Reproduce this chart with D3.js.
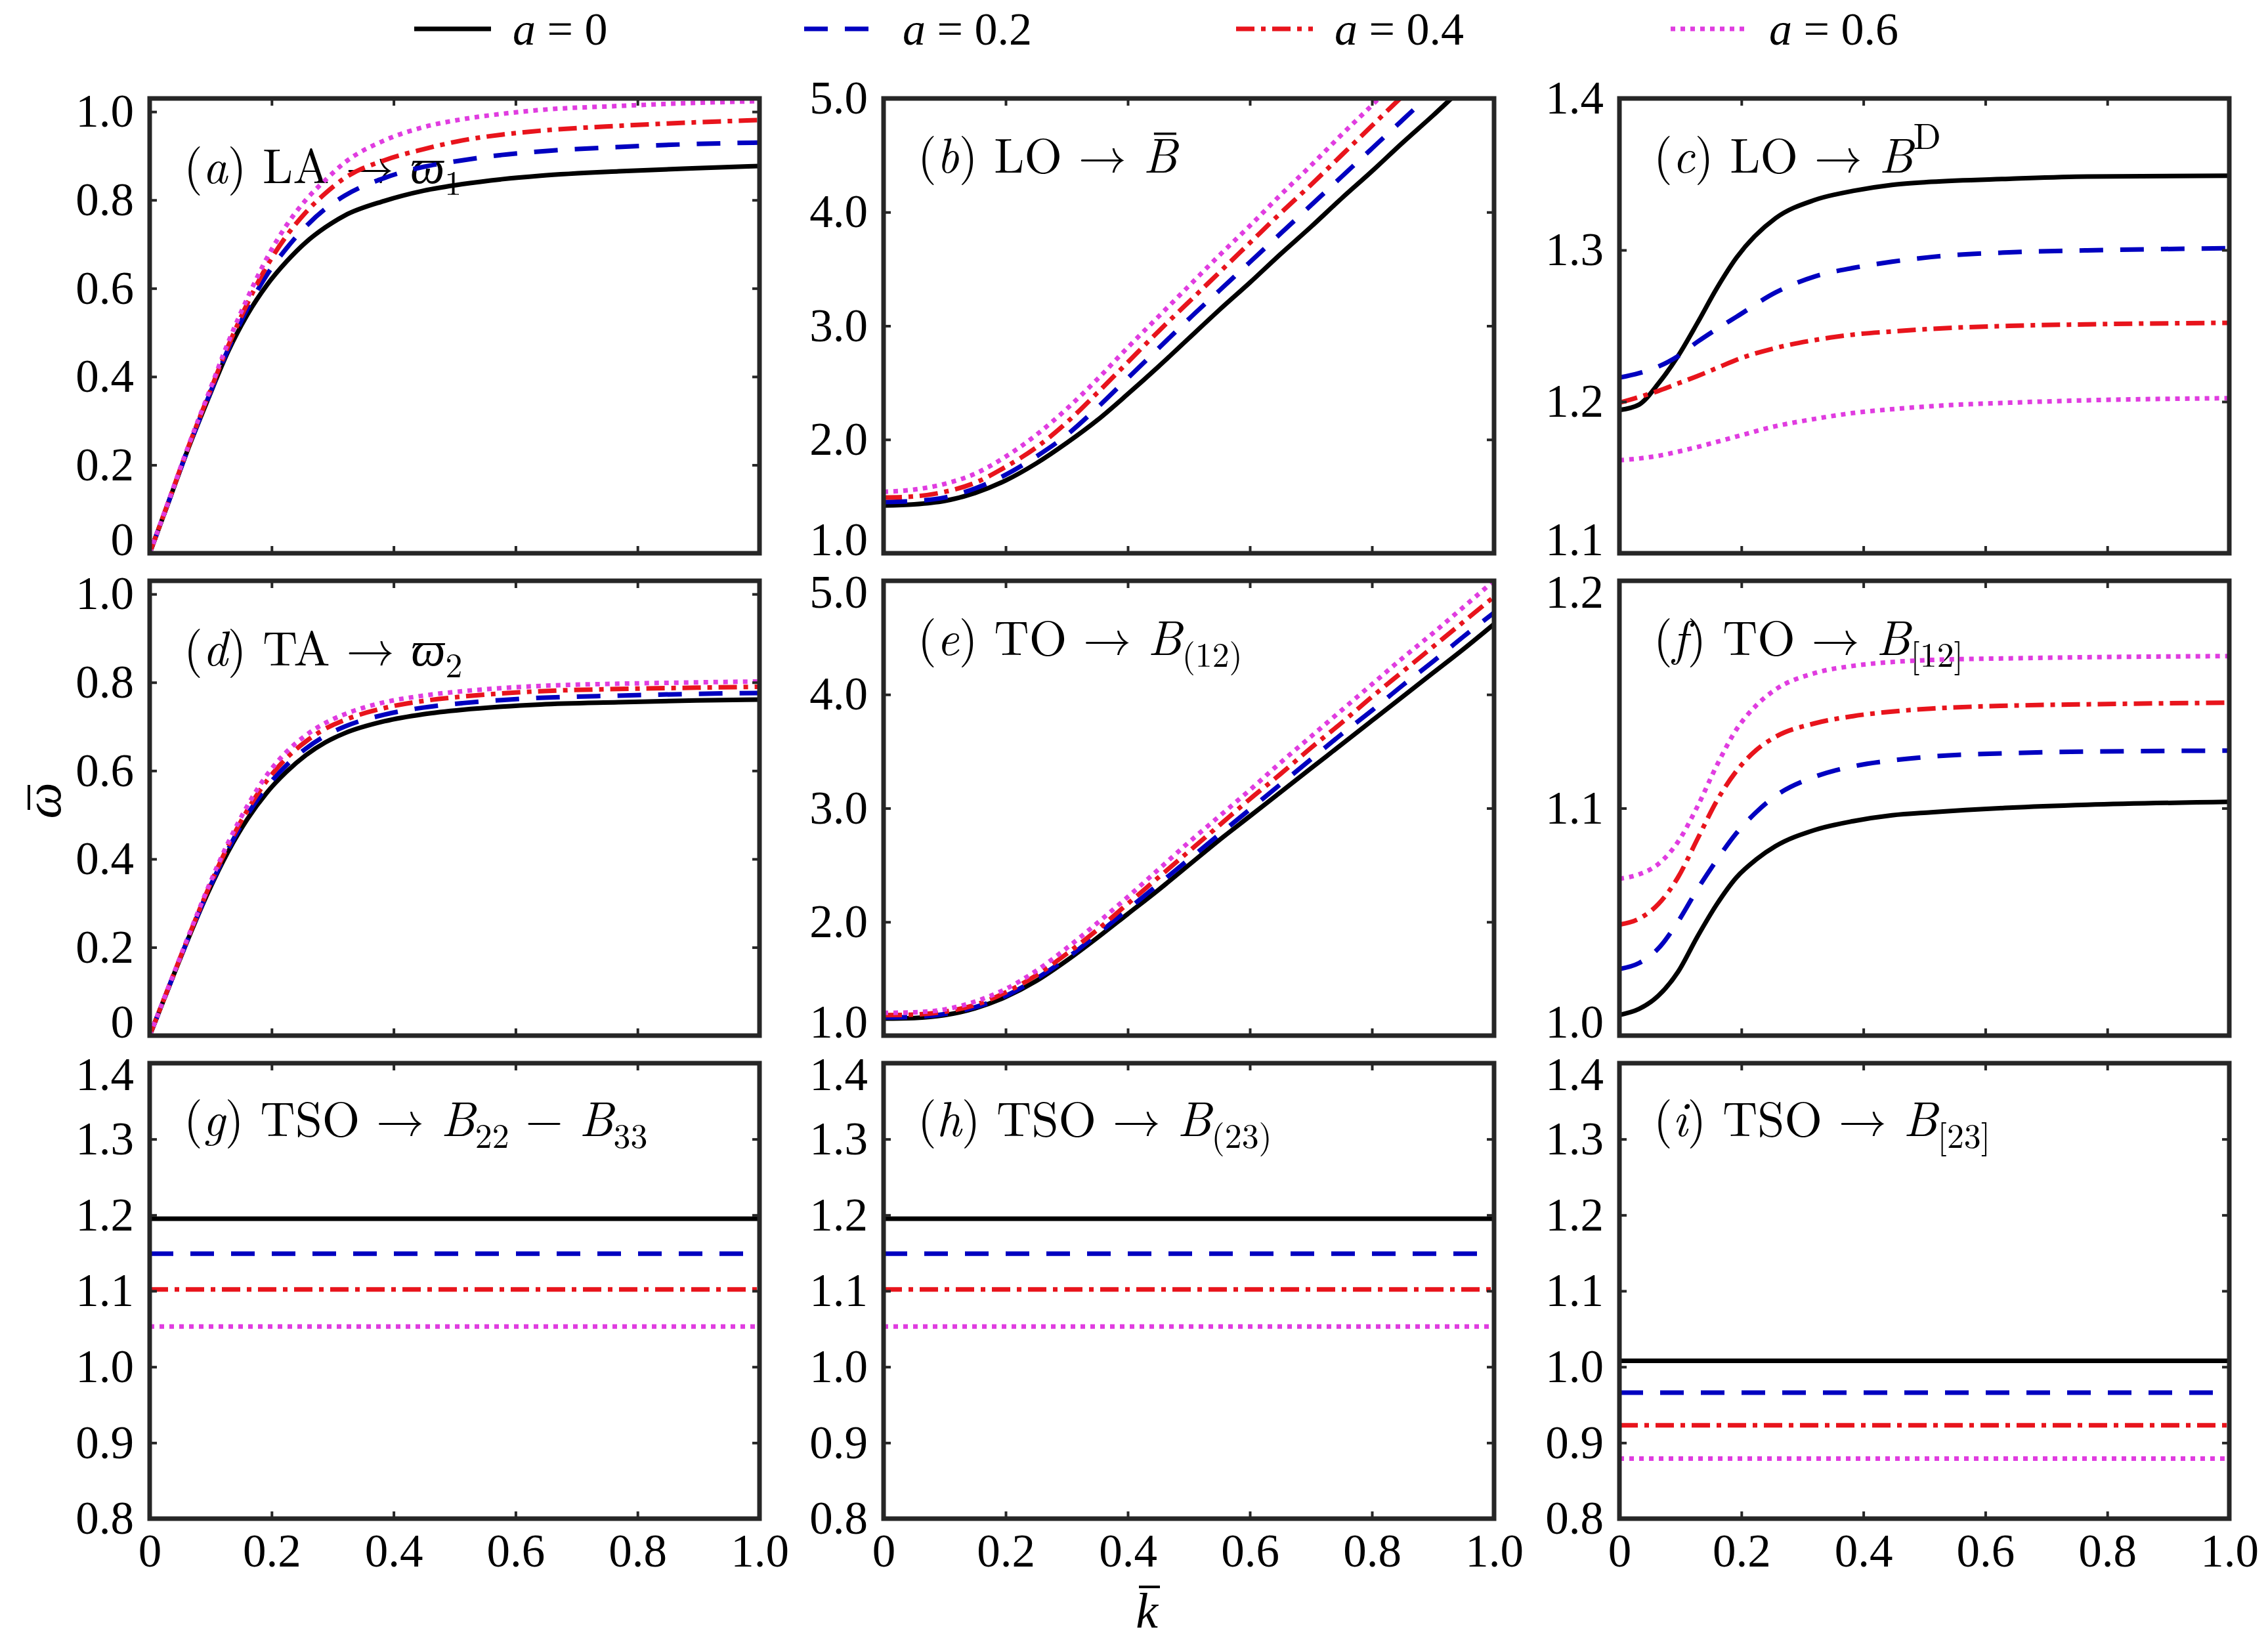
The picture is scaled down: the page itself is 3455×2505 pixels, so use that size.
<!DOCTYPE html>
<html>
<head>
<meta charset="utf-8">
<script src="https://cdn.jsdelivr.net/npm/d3@7"></script>
<style>
body { margin: 0; background: #fff; }
svg { display: block; }
</style>
</head>
<body>
<svg id="chart"></svg>
<script>
// ---- data ----
let aLabels = ['0', '0.2', '0.4', '0.6']

let xTicks = [0, 0.2, 0.4, 0.6, 0.8, 1.0]
let xTickLabels = ['0', '0.2', '0.4', '0.6', '0.8', '1.0']

// (a) LA and (d) TA
let kAcoustic = [0, 0.032, 0.064, 0.096, 0.128, 0.16, 0.192, 0.224, 0.256, 0.288, 0.32, 0.385, 0.449, 0.513, 0.577, 0.641, 0.769, 0.897, 1]
let laValues = [
    [0, 0.12, 0.24, 0.35, 0.455, 0.54, 0.607, 0.66, 0.704, 0.738, 0.765, 0.798, 0.821, 0.836, 0.847, 0.855, 0.865, 0.872, 0.877],
    [0, 0.12, 0.241, 0.352, 0.46, 0.553, 0.63, 0.69, 0.74, 0.78, 0.81, 0.85, 0.875, 0.89, 0.902, 0.91, 0.92, 0.927, 0.93],
    [0, 0.121, 0.243, 0.356, 0.467, 0.565, 0.65, 0.718, 0.772, 0.815, 0.85, 0.89, 0.915, 0.935, 0.948, 0.957, 0.968, 0.976, 0.981],
    [0, 0.122, 0.245, 0.36, 0.475, 0.577, 0.668, 0.742, 0.8, 0.845, 0.885, 0.935, 0.965, 0.983, 0.995, 1.004, 1.013, 1.02, 1.024]
]
let taValues = [
    [0, 0.112, 0.222, 0.325, 0.415, 0.49, 0.55, 0.597, 0.635, 0.664, 0.685, 0.712, 0.728, 0.738, 0.745, 0.75, 0.755, 0.759, 0.761],
    [0, 0.112, 0.223, 0.328, 0.42, 0.5, 0.563, 0.612, 0.65, 0.679, 0.7, 0.727, 0.743, 0.753, 0.76, 0.765, 0.77, 0.774, 0.776],
    [0, 0.113, 0.225, 0.332, 0.428, 0.51, 0.577, 0.628, 0.666, 0.695, 0.715, 0.742, 0.758, 0.768, 0.775, 0.78, 0.785, 0.788, 0.79],
    [0, 0.114, 0.227, 0.336, 0.435, 0.52, 0.59, 0.642, 0.68, 0.708, 0.728, 0.755, 0.77, 0.78, 0.787, 0.792, 0.797, 0.8, 0.802]
]
let acousticTicks = [0, 0.2, 0.4, 0.6, 0.8, 1.0]
let acousticTickLabels = ['0', '0.2', '0.4', '0.6', '0.8', '1.0']

// (b) LO and (e) TO, B(12)
let kOptic = [0, 0.05, 0.1, 0.15, 0.2, 0.25, 0.3, 0.35, 0.4, 0.45, 0.5, 0.55, 0.6, 0.65, 0.7, 0.75, 0.8, 0.85, 0.9, 0.95, 1]
let loValues = [
    [1.42, 1.43, 1.46, 1.53, 1.64, 1.79, 1.97, 2.17, 2.4, 2.64, 2.89, 3.14, 3.38, 3.63, 3.87, 4.12, 4.36, 4.61, 4.85, 5.1, 5.34],
    [1.45, 1.46, 1.49, 1.57, 1.69, 1.85, 2.04, 2.28, 2.54, 2.8, 3.06, 3.31, 3.56, 3.81, 4.06, 4.31, 4.56, 4.81, 5.06, 5.31, 5.56],
    [1.49, 1.5, 1.54, 1.62, 1.76, 1.93, 2.15, 2.41, 2.68, 2.95, 3.21, 3.47, 3.73, 3.99, 4.24, 4.5, 4.76, 5.02, 5.27, 5.53, 5.79],
    [1.54, 1.56, 1.61, 1.7, 1.85, 2.04, 2.27, 2.53, 2.81, 3.08, 3.35, 3.62, 3.88, 4.15, 4.41, 4.68, 4.94, 5.21, 5.47, 5.74, 6.0]
]
let toValues = [
    [1.15, 1.155, 1.18, 1.24, 1.34, 1.48, 1.66, 1.86, 2.07, 2.28, 2.5, 2.72, 2.93, 3.14, 3.35, 3.56, 3.77, 3.98, 4.19, 4.4, 4.62],
    [1.16, 1.165, 1.19, 1.25, 1.35, 1.5, 1.68, 1.89, 2.11, 2.33, 2.55, 2.77, 2.99, 3.21, 3.43, 3.65, 3.86, 4.08, 4.29, 4.51, 4.72],
    [1.18, 1.185, 1.21, 1.27, 1.38, 1.53, 1.72, 1.93, 2.16, 2.39, 2.62, 2.85, 3.08, 3.3, 3.53, 3.75, 3.98, 4.2, 4.42, 4.64, 4.86],
    [1.2, 1.205, 1.23, 1.3, 1.41, 1.57, 1.77, 1.99, 2.22, 2.46, 2.7, 2.93, 3.16, 3.4, 3.63, 3.86, 4.09, 4.32, 4.54, 4.77, 5.0]
]
let opticTicks = [1, 2, 3, 4, 5]
let opticTickLabels = ['1.0', '2.0', '3.0', '4.0', '5.0']

// (c) LO -> B^D
let kDev = [0, 0.032, 0.064, 0.096, 0.128, 0.16, 0.192, 0.256, 0.32, 0.383, 0.447, 0.511, 0.639, 0.767, 1]
let devValues = [
    [1.1945, 1.198, 1.212, 1.23, 1.252, 1.275, 1.295, 1.321, 1.333, 1.339, 1.343, 1.345, 1.347, 1.3485, 1.349],
    [1.2159, 1.2188, 1.2232, 1.23, 1.2395, 1.248, 1.256, 1.272, 1.2825, 1.2882, 1.2923, 1.2954, 1.2985, 1.2998, 1.3012],
    [1.1993, 1.203, 1.2071, 1.212, 1.2169, 1.2222, 1.2276, 1.2354, 1.2406, 1.2442, 1.2463, 1.248, 1.25, 1.251, 1.252],
    [1.1614, 1.1625, 1.1643, 1.167, 1.1701, 1.1735, 1.177, 1.1838, 1.1886, 1.1925, 1.195, 1.197, 1.1993, 1.2009, 1.2023]
]
let devTicks = [1.1, 1.2, 1.3, 1.4]
let devTickLabels = ['1.1', '1.2', '1.3', '1.4']

// (f) TO -> B[12]
let kSkew = [0, 0.032, 0.064, 0.096, 0.128, 0.16, 0.192, 0.224, 0.256, 0.32, 0.383, 0.447, 0.511, 0.639, 0.767, 1]
let skewValues = [
    [1.0091, 1.0117, 1.0176, 1.028, 1.0436, 1.0579, 1.0696, 1.0774, 1.0833, 1.0904, 1.0943, 1.0969, 1.0982, 1.1002, 1.1015, 1.1028],
    [1.0293, 1.0319, 1.0384, 1.0501, 1.0644, 1.0774, 1.0891, 1.0982, 1.1054, 1.1138, 1.1184, 1.121, 1.1227, 1.1242, 1.1249, 1.1253],
    [1.0488, 1.0514, 1.0579, 1.0696, 1.0865, 1.1034, 1.1164, 1.1255, 1.1314, 1.1373, 1.1405, 1.1425, 1.1438, 1.1451, 1.1457, 1.1464],
    [1.069, 1.0709, 1.0755, 1.0852, 1.1008, 1.119, 1.1347, 1.1451, 1.1522, 1.1594, 1.1626, 1.1643, 1.1652, 1.1659, 1.1664, 1.1669]
]
let skewTicks = [1.0, 1.1, 1.2]
let skewTickLabels = ['1.0', '1.1', '1.2']

// (g)(h)(i) TSO, flat in k
let kFlat = [0, 1]
let tsoDiffValues = [[1.195, 1.195], [1.149, 1.149], [1.102, 1.102], [1.053, 1.053]]
let tsoSymValues = [[1.195, 1.195], [1.149, 1.149], [1.102, 1.102], [1.053, 1.053]]
let tsoAntiValues = [[1.008, 1.008], [0.966, 0.966], [0.923, 0.923], [0.879, 0.879]]
let flatTicks = [0.8, 0.9, 1.0, 1.1, 1.2, 1.3, 1.4]
let flatTickLabels = ['0.8', '0.9', '1.0', '1.1', '1.2', '1.3', '1.4']

// <o> = italic with a bar over it
let titles = [
    '(<i>a</i>) LA → <i>ϖ</i><sub>1</sub>',
    '(<i>b</i>) LO → <o>B</o>',
    '(<i>c</i>) LO → <i>B</i><sup>D</sup>',
    '(<i>d</i>) TA → <i>ϖ</i><sub>2</sub>',
    '(<i>e</i>) TO → <i>B</i><sub>(12)</sub>',
    '(<i>f</i>) TO → <i>B</i><sub>[12]</sub>',
    '(<i>g</i>) TSO → <i>B</i><sub>22</sub> − <i>B</i><sub>33</sub>',
    '(<i>h</i>) TSO → <i>B</i><sub>(23)</sub>',
    '(<i>i</i>) TSO → <i>B</i><sub>[23]</sub>'
]

// ---- layout / styles ----
let width = 3455
let height = 2505
let tickFont = '"Liberation Serif", "Times New Roman", serif'
let mathFont = '"Latin Modern Roman", "Liberation Serif", serif'
let colX = [[228, 1157], [1346, 2276], [2467, 3396]]
let rowY = [[150, 843], [885, 1578], [1620, 2314]]
let frameColor = '#262626'
let lineWidth = 7

let colors = ['#000000', '#0000c0', '#e8141c', '#e03ce0']
let dashes = [null, '36 26', '28 10 7 10', '7 8']
let legendX = [631, 1225, 1883, 2545]

let panels = [
    {k: kAcoustic, values: laValues, domain: [0, 1.03], ticks: acousticTicks, labels: acousticTickLabels, titleDy: 129},
    {k: kOptic, values: loValues, domain: [1, 5], ticks: opticTicks, labels: opticTickLabels, titleDy: 113},
    {k: kDev, values: devValues, domain: [1.1, 1.4], ticks: devTicks, labels: devTickLabels, titleDy: 113},
    {k: kAcoustic, values: taValues, domain: [0, 1.03], ticks: acousticTicks, labels: acousticTickLabels, titleDy: 129},
    {k: kOptic, values: toValues, domain: [1, 5], ticks: opticTicks, labels: opticTickLabels, titleDy: 113},
    {k: kSkew, values: skewValues, domain: [1.0, 1.2], ticks: skewTicks, labels: skewTickLabels, titleDy: 113},
    {k: kFlat, values: tsoDiffValues, domain: [0.8, 1.4], ticks: flatTicks, labels: flatTickLabels, titleDy: 111},
    {k: kFlat, values: tsoSymValues, domain: [0.8, 1.4], ticks: flatTicks, labels: flatTickLabels, titleDy: 111},
    {k: kFlat, values: tsoAntiValues, domain: [0.8, 1.4], ticks: flatTicks, labels: flatTickLabels, titleDy: 111}
]

let svg = d3.select('#chart')
    .attr('width', width)
    .attr('height', height)
    .attr('viewBox', `0 0 ${width} ${height}`)

svg.append('rect').attr('width', width).attr('height', height).attr('fill', '#fff')

// small markup -> tspans (italic, barred italic, sub, sup)
let addRich = (textSel, markup, size) => {
    let re = /<(i|o|sub|sup)>(.*?)<\/\1>|([^<]+)/g
    let m
    let shift = 0
    while ((m = re.exec(markup)) !== null) {
        let kind = m[1] || 'n'
        let str = m[1] ? m[2] : m[3]
        let target = kind === 'sub' ? size * 0.24 : kind === 'sup' ? -size * 0.48 : 0
        let ts = textSel.append('tspan').text(str).attr('dy', target - shift)
        shift = target
        if (kind === 'i' || kind === 'o') ts.style('font-style', 'italic')
        if (kind === 'o') ts.classed('over', true)
        if (kind === 'sub') ts.attr('font-size', size * 0.7)
        if (kind === 'sup') ts.attr('font-size', size * 0.75)
    }
}

let styleAxis = (g, withLabels) => {
    g.select('.domain').remove()
    g.selectAll('.tick line').attr('stroke', frameColor).attr('stroke-width', 4)
    g.selectAll('.tick text')
     .attr('fill', '#000')
     .style('font-family', tickFont)
     .style('font-size', '71px')
    if (!withLabels) g.selectAll('.tick text').remove()
}

panels.forEach((p, idx) => {
    let col = idx % 3
    let row = Math.floor(idx / 3)
    let [x0, x1] = colX[col]
    let [y0, y1] = rowY[row]

    let xScale = d3.scaleLinear().domain([0, 1]).range([x0, x1])
    let yScale = d3.scaleLinear().domain(p.domain).range([y1, y0])

    let g = svg.append('g').attr('class', 'panel')

    let clipId = 'clip' + idx
    g.append('clipPath').attr('id', clipId)
     .append('rect')
     .attr('x', x0).attr('y', y0)
     .attr('width', x1 - x0).attr('height', y1 - y0)

    // title
    let titleSize = 74
    let baseY = y0 + p.titleDy
    let title = g.append('text')
        .attr('x', x0 + 52)
        .attr('y', baseY)
        .attr('font-size', titleSize)
        .style('font-family', mathFont)
        .style('white-space', 'pre')
    addRich(title, titles[idx], titleSize)
    title.selectAll('tspan.over').each(function () {
        let bb = this.getBBox()
        g.append('line')
         .attr('x1', bb.x + bb.width * 0.3)
         .attr('x2', bb.x + bb.width * 0.92)
         .attr('y1', baseY - titleSize * 0.8)
         .attr('y2', baseY - titleSize * 0.8)
         .attr('stroke', '#000')
         .attr('stroke-width', 3.5)
    })

    // curves
    let line = d3.line()
        .x((d, i) => xScale(p.k[i]))
        .y(d => yScale(d))
        .curve(d3.curveMonotoneX)

    g.append('g')
     .attr('clip-path', `url(#${clipId})`)
     .selectAll('path')
     .data(p.values)
     .enter()
     .append('path')
     .attr('d', d => line(d))
     .attr('fill', 'none')
     .attr('stroke', (d, i) => colors[i])
     .attr('stroke-width', lineWidth)
     .attr('stroke-dasharray', (d, i) => dashes[i])

    // axes, ticks pointing inward on all four sides
    let bottom = g.append('g')
        .attr('transform', `translate(0, ${y1})`)
        .call(d3.axisBottom(xScale).tickValues(xTicks)
            .tickFormat((d, i) => xTickLabels[i])
            .tickSizeInner(-11).tickSizeOuter(0).tickPadding(23))
    styleAxis(bottom, row === 2)

    let top = g.append('g')
        .attr('transform', `translate(0, ${y0})`)
        .call(d3.axisTop(xScale).tickValues(xTicks).tickSizeInner(-11).tickSizeOuter(0))
    styleAxis(top, false)

    let left = g.append('g')
        .attr('transform', `translate(${x0}, 0)`)
        .call(d3.axisLeft(yScale).tickValues(p.ticks)
            .tickFormat((d, i) => p.labels[i])
            .tickSizeInner(-11).tickSizeOuter(0).tickPadding(24))
    styleAxis(left, true)
    // keep labels of stacked panels apart at the shared edges
    left.selectAll('.tick text')
        .attr('y', d => {
            if (d === p.domain[0] && row < 2) return -20
            if (d === p.domain[1] && row > 0) return 18
            return 0
        })

    let right = g.append('g')
        .attr('transform', `translate(${x1}, 0)`)
        .call(d3.axisRight(yScale).tickValues(p.ticks).tickSizeInner(-11).tickSizeOuter(0))
    styleAxis(right, false)

    g.append('rect')
     .attr('x', x0).attr('y', y0)
     .attr('width', x1 - x0).attr('height', y1 - y0)
     .attr('fill', 'none')
     .attr('stroke', frameColor)
     .attr('stroke-width', 7)
})

// legend
let legend = svg.append('g').attr('class', 'legend')
aLabels.forEach((lab, i) => {
    let lx = legendX[i]
    legend.append('line')
        .attr('x1', lx).attr('x2', lx + 117)
        .attr('y1', 44).attr('y2', 44)
        .attr('stroke', colors[i])
        .attr('stroke-width', lineWidth)
        .attr('stroke-dasharray', dashes[i])
    let t = legend.append('text')
        .attr('x', lx + 150)
        .attr('y', 68)
        .attr('font-size', 70)
        .style('font-family', tickFont)
        .style('white-space', 'pre')
    addRich(t, '<i>a</i> = ' + lab, 70)
})

// axis labels (bars drawn as lines)
let yLab = svg.append('g').attr('transform', 'translate(92, 1220) rotate(-90)')
yLab.append('text')
    .attr('text-anchor', 'middle')
    .attr('font-size', 78)
    .style('font-family', tickFont)
    .style('font-style', 'italic')
    .text('ω')
yLab.append('line')
    .attr('x1', -14).attr('x2', 24)
    .attr('y1', -48).attr('y2', -48)
    .attr('stroke', '#000')
    .attr('stroke-width', 4)

let xLab = svg.append('g').attr('transform', 'translate(1747, 2480)')
xLab.append('text')
    .attr('text-anchor', 'middle')
    .attr('font-size', 76)
    .style('font-family', tickFont)
    .style('font-style', 'italic')
    .text('k')
xLab.append('line')
    .attr('x1', -12).attr('x2', 20)
    .attr('y1', -62).attr('y2', -62)
    .attr('stroke', '#000')
    .attr('stroke-width', 4)
</script>
</body>
</html>
